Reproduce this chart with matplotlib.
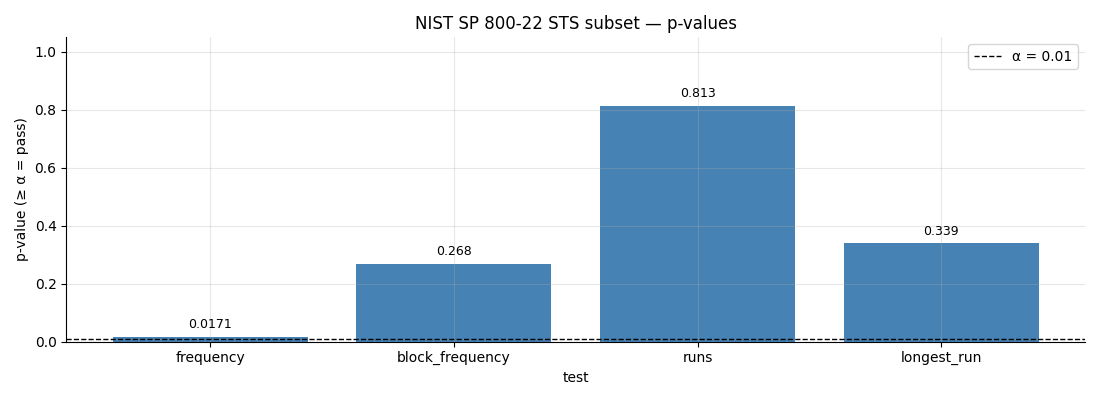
import numpy as np
import matplotlib
matplotlib.use("Agg")
from matplotlib import pyplot as plt

tests = ["frequency", "block_frequency", "runs", "longest_run"]
p_values = [0.0171, 0.268, 0.813, 0.339]
value_labels = ["0.0171", "0.268", "0.813", "0.339"]
alpha = 0.01

fig, ax = plt.subplots(figsize=(11, 4), dpi=100)
x = np.arange(len(tests))
ax.bar(x, p_values, color="steelblue", width=0.8)
ax.axhline(alpha, color="black", linestyle="--", linewidth=1, label="α = 0.01")
for xi, v, lab in zip(x, p_values, value_labels):
    ax.text(xi, v + 0.02, lab, ha="center", va="bottom", fontsize=9)

ax.set_xticks(x)
ax.set_xticklabels(tests)
ax.set_ylim(0, 1.05)
ax.set_xlabel("test")
ax.set_ylabel("p-value (≥ α = pass)")
ax.set_title("NIST SP 800-22 STS subset — p-values")
ax.grid(True, alpha=0.3)
ax.spines["top"].set_visible(False)
ax.spines["right"].set_visible(False)
ax.legend(loc="upper right")

fig.subplots_adjust(left=0.0603, right=0.9865, top=0.907, bottom=0.146)
fig.savefig("out.png", dpi=100)
